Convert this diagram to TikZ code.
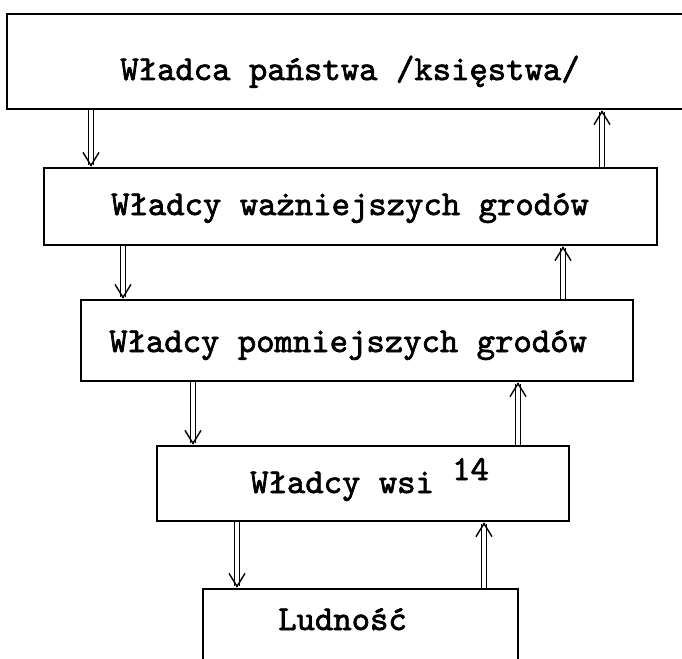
\documentclass[tikz,border=0pt]{standalone}
\usepackage{fontspec}
\newfontfamily\typew[FakeBold=2]{lmmono10-regular.otf}
\usetikzlibrary{arrows.meta,calc}
\begin{document}
\begin{tikzpicture}[x=1pt,y=-1pt,
  box/.style={draw, line width=2.6pt, inner sep=0pt},
  lbl/.style={font=\typew\fontsize{35}{35}\selectfont, inner sep=0pt},
  dbl/.style={double, double distance=3.4pt, line width=1.3pt, shorten >=2pt},
  tip/.style={line width=1.3pt, -{Straight Barb[length=13pt,width=16pt,line width=1.4pt]}}]
\useasboundingbox (0,0) rectangle (682,658);
\clip (0,0) rectangle (682,658);
\fill[white] (0,0) rectangle (682,658);
% boxes
\node[box, minimum width=693pt, minimum height=95pt] (b1) at (353.5,61.5) {};
\node[box, minimum width=613pt, minimum height=77pt] (b2) at (350.5,206.5) {};
\node[box, minimum width=552pt, minimum height=81pt] (b3) at (357,340.5) {};
\node[box, minimum width=412pt, minimum height=75pt] (b4) at (363,483.5) {};
\node[box, minimum width=315pt, minimum height=111pt] (b5) at (360.5,644.5) {};
% texts
\node[lbl, anchor=base] (t1) at (350,80) {Władca państwa /księstwa/};
\node[lbl, anchor=base] (t2) at (350,215) {Władcy ważniejszych grodów};
\node[lbl, anchor=base west] (t3) at (109,352) {Władcy pomniejszych grodów};
\node[lbl, anchor=base west] (t4) at (250,493) {Władcy wsi};
\node[lbl, anchor=base west] (t4n) at (452,480) {14};
\node[lbl, anchor=base west] (t5) at (278,630) {Ludność};
% arrows down
\foreach \x/\a/\b in {91/b1/b2, 123/b2/b3, 193/b3/b4, 237/b4/b5}{
  \draw[dbl] (\a.south -| \x,0) -- (\b.north -| \x,0);
  \draw[tip] ($(\b.north -| \x,0)+(0,-0.5)$) -- (\b.north -| \x,0);
}
% arrows up
\foreach \x/\a/\b in {602/b2/b1, 563/b3/b2, 518/b4/b3, 484/b5/b4}{
  \draw[dbl] (\a.north -| \x,0) -- (\b.south -| \x,0);
  \draw[tip] ($(\b.south -| \x,0)+(0,0.5)$) -- (\b.south -| \x,0);
}
\end{tikzpicture}
\end{document}
